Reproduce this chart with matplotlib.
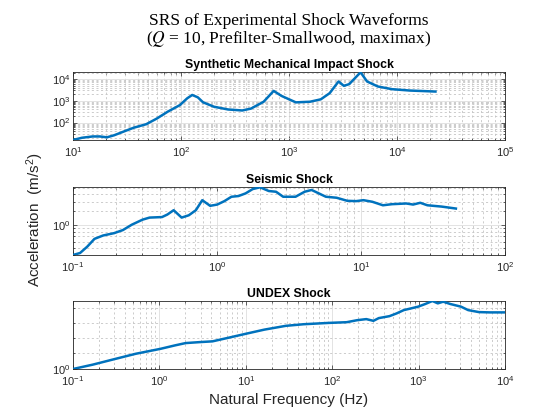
import numpy as np
import matplotlib
matplotlib.use("Agg")
import matplotlib.pyplot as plt
from matplotlib.ticker import LogLocator, NullFormatter, FixedLocator

plt.rcParams['font.family'] = ['Liberation Sans', 'DejaVu Sans']
plt.rcParams['mathtext.fontset'] = 'stix'

# ---------------- data ----------------
impact_f = [10, 12.1, 15.2, 17.7, 20.6, 24, 30, 36.5, 47.6, 59.7, 75, 97.8, 114, 127, 143,
            160, 202, 273, 369, 445, 583, 721, 853, 1157, 1567, 1968, 2378, 2876, 3222,
            3612, 4600, 5280, 6640, 9000, 13150, 22700]
impact_a = [15.8, 20, 23, 23, 21, 26, 40, 58, 84, 153, 313, 640, 1300, 1860, 1450,
            855, 535, 400, 360, 440, 912, 2860, 1680, 850, 910, 1170, 2240, 7770, 4880,
            5870, 20500, 7770, 4570, 3430, 2970, 2670]

seismic_f = [0.1, 0.112, 0.1256, 0.141, 0.162, 0.193, 0.222, 0.256, 0.304, 0.34, 0.415,
             0.452, 0.5, 0.568, 0.637, 0.713, 0.79, 0.896, 1.004, 1.125, 1.26, 1.41, 1.58,
             1.77, 1.99, 2.29, 2.57, 2.88, 3.51, 4.06, 4.54, 5.09, 5.7, 6.77, 8.03, 9.25,
             10.4, 12, 14.2, 16.4, 20.6, 23, 25.8, 28.9, 36.3, 45.6]
seismic_a = [0.40, 0.425, 0.515, 0.652, 0.722, 0.775, 0.85, 1.0, 1.165, 1.24, 1.26,
             1.36, 1.55, 1.24, 1.33, 1.55, 2.1, 1.77, 1.84, 2.04, 2.33, 2.38, 2.58,
             2.94, 3.1, 2.77, 2.71, 2.33, 2.33, 2.71, 2.86, 2.58, 2.33, 2.26, 2.06, 2.04,
             2.1, 2.0, 1.8, 1.86, 1.9, 1.84, 1.94, 1.8, 1.73, 1.63]

undex_f = [0.1, 0.169, 0.299, 0.53, 1.03, 1.51, 2.01, 2.95, 4.11, 6.3, 10.2, 16.4, 29,
           46.8, 91, 147, 195, 248, 300, 346, 460, 557, 674, 815, 987, 1194, 1445, 1668,
           1925, 2328, 3097, 3748, 4990, 6640, 9720]
undex_a = [1.0, 1.0068, 1.0154, 1.0240, 1.0320, 1.0375, 1.0413, 1.0429, 1.0441, 1.0500,
           1.0568, 1.0634, 1.0697, 1.0724, 1.0746, 1.0758, 1.0792, 1.0810, 1.0781, 1.0827,
           1.0860, 1.0907, 1.0963, 1.0992, 1.1022, 1.1068, 1.1120, 1.1079, 1.1108, 1.1068,
           1.1022, 1.0963, 1.0929, 1.0924, 1.0924]

titles = ["Synthetic Mechanical Impact Shock", "Seismic Shock", "UNDEX Shock"]
xlims = [(1e1, 1e5), (1e-1, 1e2), (1e-1, 1e4)]
ymajor = [[1e2, 1e3, 1e4], [1.0], [1.0]]
yminor = [None, [0.4, 0.5, 0.6, 0.7, 0.8, 0.9, 1.5, 2.0, 2.5, 3.0],
          [1.025, 1.05, 1.075, 1.1]]

# ---------------- figure ----------------
fig = plt.figure(figsize=(5.6, 4.2), dpi=100)
W, H = 560, 420
boxes = [(73, 72.3, 505, 140), (73, 187.3, 505, 255), (73, 301, 505, 369)]
dark = '#262626'
line_col = '#0072BD'

series = [(impact_f, impact_a), (seismic_f, seismic_a), (undex_f, undex_a)]
for i, (x0, y0, x1, y1) in enumerate(boxes):
    ax = fig.add_axes([x0 / W, 1 - y1 / H, (x1 - x0) / W, (y1 - y0) / H])
    f, a = series[i]
    ax.plot(f, a, color=line_col, lw=1.8, zorder=3, solid_joinstyle='round')
    ax.set_xscale('log')
    ax.set_yscale('log')
    ax.set_xlim(*xlims[i])
    ax.set_xticks([10.0 ** k for k in range(int(np.log10(xlims[i][0])), int(np.log10(xlims[i][1])) + 1)])
    ax.xaxis.set_minor_locator(LogLocator(base=10, subs=np.arange(2, 10), numticks=100))
    ax.xaxis.set_minor_formatter(NullFormatter())
    ax.set_yticks(ymajor[i])
    if yminor[i] is None:
        ax.yaxis.set_minor_locator(LogLocator(base=10, subs=np.arange(2, 10), numticks=100))
    else:
        ax.yaxis.set_minor_locator(FixedLocator(yminor[i]))
    ax.yaxis.set_minor_formatter(NullFormatter())
    ax.set_ylim(min(a), max(a))
    ax.grid(True, which='major', color='#dedede', lw=0.6, ls='-', zorder=0)
    ax.grid(True, which='minor', color='#c4c4c4', lw=0.6, ls=(0, (2.5, 3)), zorder=0)
    ax.tick_params(which='both', direction='in', top=True, right=True, colors=dark,
                   labelsize=8, width=0.5)
    ax.tick_params(which='major', length=3)
    ax.tick_params(which='minor', length=1.6)
    ax.tick_params(axis='x', pad=4)
    ax.tick_params(axis='y', pad=2)
    for s in ax.spines.values():
        s.set_color(dark)
        s.set_linewidth(0.6)
    ax.set_title(titles[i], fontsize=8.8, fontweight='bold', color='black', pad=3)

fig.text(289 / W, 1 - 21 / H, 'SRS of Experimental Shock Waveforms',
         family='Liberation Serif', fontsize=12.5, ha='center', va='center', color='black')
fig.text(289 / W, 1 - 39 / H, r'($\mathit{Q}$ = 10, Prefilter-Smallwood, maximax)',
         family='Liberation Serif', fontsize=12.5, ha='center', va='center', color='black')
fig.text(289 / W, 1 - 400 / H, 'Natural Frequency (Hz)', fontsize=11,
         ha='center', va='center', color=dark)
fig.text(35 / W, 1 - 219 / H, r'Acceleration  (m/s$^{\mathregular{2}}$)', fontsize=11,
         ha='center', va='center', rotation=90, color=dark)

fig.savefig('out.png', dpi=100, facecolor='white')
